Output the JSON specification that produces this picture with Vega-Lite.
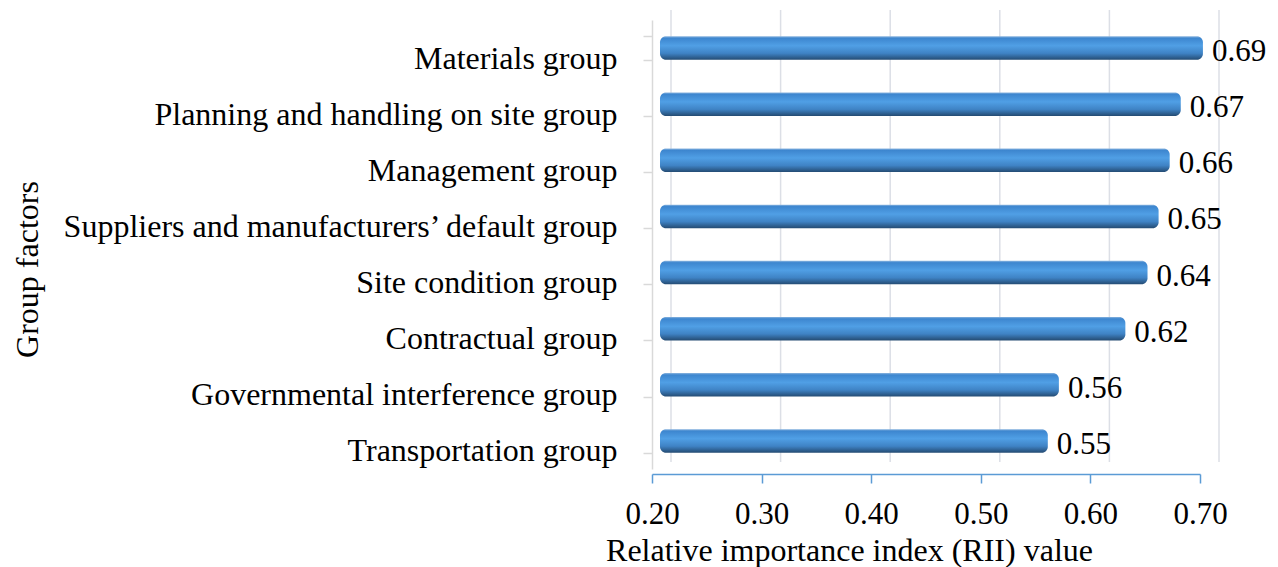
{
  "$schema": "https://vega.github.io/schema/vega-lite/v6.json",
  "width": 548,
  "height": 452,
  "autosize": {"type": "none"},
  "padding": {"left": 652, "top": 10, "right": 78, "bottom": 105},
  "background": "white",
  "config": {
    "view": {"stroke": null},
    "font": "Liberation Serif",
    "axis": {"labelFont": "Liberation Serif", "titleFont": "Liberation Serif", "labelColor": "#000000", "titleColor": "#000000", "titleFontWeight": "normal"}
  },
  "datasets": {
    "groups": [
      {"group": "Materials group", "rii": 0.69},
      {"group": "Planning and handling on site group", "rii": 0.67},
      {"group": "Management group", "rii": 0.66},
      {"group": "Suppliers and manufacturers’ default group", "rii": 0.65},
      {"group": "Site condition group", "rii": 0.64},
      {"group": "Contractual group", "rii": 0.62},
      {"group": "Governmental interference group", "rii": 0.56},
      {"group": "Transportation group", "rii": 0.55}
    ],
    "ticks": [
      {"tick": 0.2}, {"tick": 0.3}, {"tick": 0.4}, {"tick": 0.5}, {"tick": 0.6}, {"tick": 0.7}
    ]
  },
  "resolve": {"scale": {"x": "independent"}, "axis": {"x": "independent"}},
  "layer": [
    {
      "data": {"name": "ticks"},
      "mark": {"type": "rule", "color": "#DCDFE6", "strokeWidth": 1.5, "xOffset": 19},
      "encoding": {
        "x": {
          "field": "tick",
          "type": "quantitative",
          "scale": {"domain": [0.2, 0.7], "zero": false, "nice": false},
          "axis": {
            "orient": "bottom",
            "offset": 12,
            "values": [0.2, 0.3, 0.4, 0.5, 0.6, 0.7],
            "format": ".2f",
            "grid": false,
            "domainColor": "#5B9BD5",
            "domainWidth": 1.5,
            "tickColor": "#5B9BD5",
            "tickWidth": 1.5,
            "tickSize": 9,
            "labelFontSize": 31,
            "labelBaseline": "alphabetic",
            "labelPadding": 40,
            "labelFlush": false,
            "title": "Relative importance index (RII) value",
            "titleFontSize": 32,
            "titleX": 197,
            "titleY": 86,
            "titleAlign": "center",
            "titleBaseline": "alphabetic"
          }
        }
      }
    },
    {
      "data": {"name": "groups"},
      "layer": [
        {
          "mark": {
            "type": "bar",
            "cornerRadius": 6,
            "color": {
              "gradient": "linear",
              "x1": 0, "y1": 0, "x2": 0, "y2": 1,
              "stops": [
                {"offset": 0, "color": "#8DB6DF"},
                {"offset": 0.08, "color": "#3D86CF"},
                {"offset": 0.4, "color": "#509FE5"},
                {"offset": 0.72, "color": "#3F83C5"},
                {"offset": 1, "color": "#244B72"}
              ]
            }
          },
          "encoding": {
            "y": {
              "field": "group",
              "type": "nominal",
              "sort": null,
              "scale": {"range": [10, 459], "paddingInner": 0.58, "paddingOuter": 0.29},
              "axis": {
                "title": "Group factors",
                "titleFontSize": 32,
                "titleX": -625,
                "titleY": 259,
                "titleAlign": "center",
                "titleAngle": -90,
                "titleBaseline": "middle",
                "labelFontSize": 32,
                "labelPadding": 26,
                "labelOffset": 10,
                "labelLimit": 700,
                "domainColor": "#D9D9D9",
                "domainWidth": 1.5,
                "tickColor": "#D9D9D9",
                "tickWidth": 1.5,
                "tickSize": 9,
                "tickBand": "extent",
                "tickOffset": 6,
                "grid": false
              }
            },
            "x": {
              "field": "rii",
              "type": "quantitative",
              "scale": {"domain": [0.2, 0.7], "range": [8, 562], "zero": false, "nice": false},
              "axis": null
            },
            "x2": {"datum": 0.2}
          }
        },
        {
          "mark": {"type": "text", "align": "left", "baseline": "middle", "dx": 9, "dy": 4, "fontSize": 31, "font": "Liberation Serif", "color": "#000000"},
          "encoding": {
            "y": {"field": "group", "type": "nominal", "sort": null},
            "x": {
              "field": "rii",
              "type": "quantitative",
              "scale": {"domain": [0.2, 0.7], "range": [8, 562], "zero": false, "nice": false},
              "axis": null
            },
            "text": {"field": "rii", "type": "quantitative", "format": ".2f"}
          }
        }
      ]
    }
  ]
}
